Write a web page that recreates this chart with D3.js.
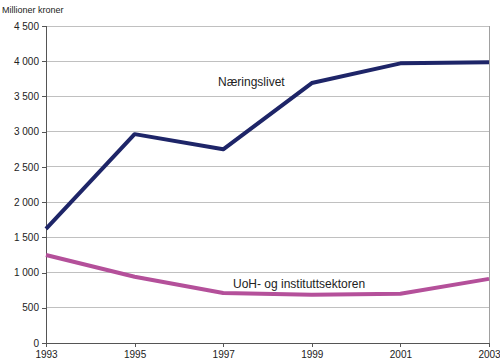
<!DOCTYPE html>
<html><head><meta charset="utf-8">
<script src="https://cdn.jsdelivr.net/npm/d3@7"></script>
<style>body{margin:0;background:#fff}svg{display:block;font-family:"Liberation Sans",Arial,sans-serif}</style>
</head><body><svg width="500" height="364"></svg>
<script>
const years = [1993, 1995, 1997, 1999, 2001, 2003];
const naeringslivet = [1620, 2965, 2750, 3690, 3970, 3985];
const uoh = [1250, 940, 710, 685, 700, 910];
const yTicks = [0, 500, 1000, 1500, 2000, 2500, 3000, 3500, 4000, 4500];
const yTickLabels = ["0", "500", "1 000", "1 500", "2 000", "2 500", "3 000", "3 500", "4 000", "4 500"];
const yTitle = "Millioner kroner";
const seriesNames = ["Næringslivet", "UoH- og instituttsektoren"];

const svg = d3.select("svg");
const L = 46, R = 489, T = 26, B = 343;
const x = d3.scaleLinear().domain([1993, 2003]).range([L, R]);
const y = d3.scaleLinear().domain([0, 4500]).range([B, T]);

// gridlines
svg.append("g").selectAll("line").data(yTicks.slice(1)).join("line")
  .attr("x1", L).attr("x2", R).attr("y1", d => y(d)).attr("y2", d => y(d))
  .attr("stroke", "#c0c0c0").attr("stroke-width", 1).attr("shape-rendering", "crispEdges");
// right frame
svg.append("line").attr("x1", R).attr("x2", R).attr("y1", T).attr("y2", B)
  .attr("stroke", "#a0a0a0").attr("shape-rendering", "crispEdges");

// y axis
const yAxis = d3.axisLeft(y).tickValues(yTicks).tickFormat((d, i) => yTickLabels[i]).tickSize(4).tickPadding(3);
const gy = svg.append("g").attr("transform", `translate(${L},0)`).call(yAxis);
gy.select(".domain").attr("stroke", "#555").attr("shape-rendering", "crispEdges");
gy.selectAll(".tick line").attr("stroke", "#555").attr("shape-rendering", "crispEdges");
gy.selectAll("text").attr("font-size", 10).attr("fill", "#222").attr("font-family", "Liberation Sans, Arial, sans-serif");

// x axis
const xAxis = d3.axisBottom(x).tickValues(years).tickFormat(d3.format("d")).tickSize(4).tickPadding(4);
const gx = svg.append("g").attr("transform", `translate(0,${B})`).call(xAxis);
gx.select(".domain").attr("stroke", "#555").attr("shape-rendering", "crispEdges");
gx.selectAll(".tick line").attr("stroke", "#555").attr("shape-rendering", "crispEdges");
gx.selectAll("text").attr("font-size", 10).attr("fill", "#222").attr("font-family", "Liberation Sans, Arial, sans-serif");

// lines
const line = d3.line().x((d, i) => x(years[i])).y(d => y(d));
svg.append("path").datum(uoh).attr("d", line).attr("fill", "none")
  .attr("stroke", "#b4509a").attr("stroke-width", 4).attr("stroke-linejoin", "round");
svg.append("path").datum(naeringslivet).attr("d", line).attr("fill", "none")
  .attr("stroke", "#1e2568").attr("stroke-width", 4).attr("stroke-linejoin", "round");

// labels
svg.append("text").attr("x", 2).attr("y", 13).attr("font-size", 9).attr("fill", "#222").text(yTitle);
svg.append("text").attr("x", 218).attr("y", 86).attr("font-size", 12).attr("fill", "#222").text(seriesNames[0]);
svg.append("text").attr("x", 233).attr("y", 288).attr("font-size", 12).attr("fill", "#222").text(seriesNames[1]);
</script></body></html>
